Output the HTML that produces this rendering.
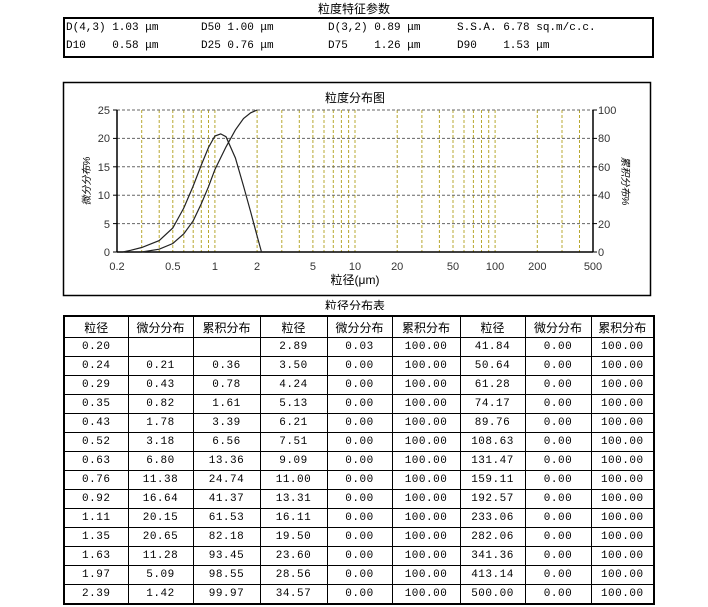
<!DOCTYPE html>
<html><head><meta charset="utf-8"><style>
body{margin:0;width:708px;height:607px;background:#fff;position:relative;font-family:"Liberation Sans","Noto Sans CJK SC",sans-serif;color:#000;overflow:hidden}
.t{position:absolute;font-size:12px;text-align:center}
#p{position:absolute;left:63px;top:17px;width:587px;height:37px;border:2px solid #000;font-family:"Liberation Mono","Noto Sans CJK SC",monospace;font-size:11px}
#p span{position:absolute}
table{position:absolute;left:63px;top:315px;border-collapse:collapse;border:2px solid #000}
td{border:1px solid #000;height:18px;padding:0;text-align:center;font-size:11px;font-family:"Liberation Mono",monospace;letter-spacing:0.5px}
tr.h td{height:20px;font-family:"Liberation Sans","Noto Sans CJK SC",sans-serif;font-size:12px;letter-spacing:0}
</style></head><body>
<div class="t" style="left:0;width:708px;top:0px">粒度特征参数</div>
<div id="p">
<span style="left:1px;top:3px">D(4,3) 1.03 μm</span>
<span style="left:136px;top:3px">D50 1.00 μm</span>
<span style="left:263px;top:3px">D(3,2) 0.89 μm</span>
<span style="left:392px;top:3px">S.S.A. 6.78 sq.m/c.c.</span>
<span style="left:1px;top:21px">D10&nbsp;&nbsp;&nbsp; 0.58 μm</span>
<span style="left:136px;top:21px">D25 0.76 μm</span>
<span style="left:263px;top:21px">D75&nbsp;&nbsp;&nbsp; 1.26 μm</span>
<span style="left:392px;top:21px">D90&nbsp;&nbsp;&nbsp; 1.53 μm</span>
</div>
<svg style="position:absolute;left:0;top:0" width="708" height="310" font-family="Liberation Sans,Noto Sans CJK SC,sans-serif" font-size="11">
<rect x="63.5" y="82.5" width="587" height="213" fill="none" stroke="#000" stroke-width="1.5"/>
<text x="355" y="102" text-anchor="middle" font-size="12">粒度分布图</text>
<g stroke="#b8a830" stroke-dasharray="3,2" stroke-width="1">
<line x1="141.7" y1="110" x2="141.7" y2="252"/><line x1="159.2" y1="110" x2="159.2" y2="252"/><line x1="172.8" y1="110" x2="172.8" y2="252"/><line x1="183.8" y1="110" x2="183.8" y2="252"/><line x1="193.2" y1="110" x2="193.2" y2="252"/><line x1="201.3" y1="110" x2="201.3" y2="252"/><line x1="208.5" y1="110" x2="208.5" y2="252"/><line x1="214.9" y1="110" x2="214.9" y2="252"/><line x1="257.1" y1="110" x2="257.1" y2="252"/><line x1="281.8" y1="110" x2="281.8" y2="252"/><line x1="299.3" y1="110" x2="299.3" y2="252"/><line x1="312.9" y1="110" x2="312.9" y2="252"/><line x1="324" y1="110" x2="324" y2="252"/><line x1="333.3" y1="110" x2="333.3" y2="252"/><line x1="341.4" y1="110" x2="341.4" y2="252"/><line x1="348.6" y1="110" x2="348.6" y2="252"/><line x1="355" y1="110" x2="355" y2="252"/><line x1="397.2" y1="110" x2="397.2" y2="252"/><line x1="421.9" y1="110" x2="421.9" y2="252"/><line x1="439.4" y1="110" x2="439.4" y2="252"/><line x1="453" y1="110" x2="453" y2="252"/><line x1="464" y1="110" x2="464" y2="252"/><line x1="473.4" y1="110" x2="473.4" y2="252"/><line x1="481.5" y1="110" x2="481.5" y2="252"/><line x1="488.7" y1="110" x2="488.7" y2="252"/><line x1="495.1" y1="110" x2="495.1" y2="252"/><line x1="537.3" y1="110" x2="537.3" y2="252"/><line x1="562" y1="110" x2="562" y2="252"/><line x1="579.5" y1="110" x2="579.5" y2="252"/>
</g>
<g stroke="#666" stroke-dasharray="3,2">
<line x1="117" y1="110" x2="593" y2="110"/><line x1="117" y1="138.4" x2="593" y2="138.4"/><line x1="117" y1="166.8" x2="593" y2="166.8"/><line x1="117" y1="195.2" x2="593" y2="195.2"/><line x1="117" y1="223.6" x2="593" y2="223.6"/>
</g>
<g stroke="#000" stroke-width="1.5"><line x1="117" y1="110" x2="117" y2="252"/><line x1="593" y1="110" x2="593" y2="252"/><line x1="117" y1="252" x2="593" y2="252"/></g>
<g stroke="#000"><line x1="113" y1="110" x2="117" y2="110"/><line x1="113" y1="138.4" x2="117" y2="138.4"/><line x1="113" y1="166.8" x2="117" y2="166.8"/><line x1="113" y1="195.2" x2="117" y2="195.2"/><line x1="113" y1="223.6" x2="117" y2="223.6"/><line x1="113" y1="252" x2="117" y2="252"/>
<line x1="593" y1="110" x2="597" y2="110"/><line x1="593" y1="138.4" x2="597" y2="138.4"/><line x1="593" y1="166.8" x2="597" y2="166.8"/><line x1="593" y1="195.2" x2="597" y2="195.2"/><line x1="593" y1="223.6" x2="597" y2="223.6"/><line x1="593" y1="252" x2="597" y2="252"/></g>
<g text-anchor="end" fill="#333"><text x="110" y="114">25</text><text x="110" y="142">20</text><text x="110" y="171">15</text><text x="110" y="199">10</text><text x="110" y="228">5</text><text x="110" y="256">0</text></g>
<g text-anchor="start" fill="#333"><text x="598" y="114">100</text><text x="598" y="142">80</text><text x="598" y="171">60</text><text x="598" y="199">40</text><text x="598" y="228">20</text><text x="598" y="256">0</text></g>
<g text-anchor="middle" fill="#333"><text x="117" y="270">0.2</text><text x="172.8" y="270">0.5</text><text x="214.9" y="270">1</text><text x="257.1" y="270">2</text><text x="312.9" y="270">5</text><text x="355" y="270">10</text><text x="397.2" y="270">20</text><text x="453" y="270">50</text><text x="495.1" y="270">100</text><text x="537.3" y="270">200</text><text x="593" y="270">500</text></g>
<text x="355" y="284" text-anchor="middle" font-size="12">粒径(μm)</text>
<text transform="translate(90,181) rotate(-90)" text-anchor="middle" font-size="10" font-style="italic">微分分布%</text>
<text transform="translate(622,181) rotate(90)" text-anchor="middle" font-size="10" font-style="italic">累积分布%</text>
<polyline fill="none" stroke="#222" stroke-width="1.2" points="122.8,252 130.6,250.3 141.7,247.5 159.2,240.6 172.8,228 183.8,208 193.2,186 201.3,165 208.5,147.5 214.9,136 220.7,133.9 226,136.7 235.4,158 243.5,186 250.7,212 257.1,236 261.5,252"/>
<polyline fill="none" stroke="#222" stroke-width="1.2" points="141.7,252 159.2,249.2 172.8,243.5 183.8,233.8 193.2,220.8 201.3,203.7 208.5,186.7 214.9,169.6 226,146.9 235.4,129.9 243.5,118.5 250.7,112.8 257.1,110"/>
<text x="355" y="310" text-anchor="middle" font-size="12">粒径分布表</text>
</svg>
<table>
<colgroup><col style="width:64px"><col style="width:65px"><col style="width:67px"><col style="width:67px"><col style="width:65px"><col style="width:68px"><col style="width:65px"><col style="width:66px"><col style="width:63px"></colgroup>
<tr class="h"><td>粒径</td><td>微分分布</td><td>累积分布</td><td>粒径</td><td>微分分布</td><td>累积分布</td><td>粒径</td><td>微分分布</td><td>累积分布</td></tr>
<tr><td>0.20</td><td></td><td></td><td>2.89</td><td>0.03</td><td>100.00</td><td>41.84</td><td>0.00</td><td>100.00</td></tr>
<tr><td>0.24</td><td>0.21</td><td>0.36</td><td>3.50</td><td>0.00</td><td>100.00</td><td>50.64</td><td>0.00</td><td>100.00</td></tr>
<tr><td>0.29</td><td>0.43</td><td>0.78</td><td>4.24</td><td>0.00</td><td>100.00</td><td>61.28</td><td>0.00</td><td>100.00</td></tr>
<tr><td>0.35</td><td>0.82</td><td>1.61</td><td>5.13</td><td>0.00</td><td>100.00</td><td>74.17</td><td>0.00</td><td>100.00</td></tr>
<tr><td>0.43</td><td>1.78</td><td>3.39</td><td>6.21</td><td>0.00</td><td>100.00</td><td>89.76</td><td>0.00</td><td>100.00</td></tr>
<tr><td>0.52</td><td>3.18</td><td>6.56</td><td>7.51</td><td>0.00</td><td>100.00</td><td>108.63</td><td>0.00</td><td>100.00</td></tr>
<tr><td>0.63</td><td>6.80</td><td>13.36</td><td>9.09</td><td>0.00</td><td>100.00</td><td>131.47</td><td>0.00</td><td>100.00</td></tr>
<tr><td>0.76</td><td>11.38</td><td>24.74</td><td>11.00</td><td>0.00</td><td>100.00</td><td>159.11</td><td>0.00</td><td>100.00</td></tr>
<tr><td>0.92</td><td>16.64</td><td>41.37</td><td>13.31</td><td>0.00</td><td>100.00</td><td>192.57</td><td>0.00</td><td>100.00</td></tr>
<tr><td>1.11</td><td>20.15</td><td>61.53</td><td>16.11</td><td>0.00</td><td>100.00</td><td>233.06</td><td>0.00</td><td>100.00</td></tr>
<tr><td>1.35</td><td>20.65</td><td>82.18</td><td>19.50</td><td>0.00</td><td>100.00</td><td>282.06</td><td>0.00</td><td>100.00</td></tr>
<tr><td>1.63</td><td>11.28</td><td>93.45</td><td>23.60</td><td>0.00</td><td>100.00</td><td>341.36</td><td>0.00</td><td>100.00</td></tr>
<tr><td>1.97</td><td>5.09</td><td>98.55</td><td>28.56</td><td>0.00</td><td>100.00</td><td>413.14</td><td>0.00</td><td>100.00</td></tr>
<tr><td>2.39</td><td>1.42</td><td>99.97</td><td>34.57</td><td>0.00</td><td>100.00</td><td>500.00</td><td>0.00</td><td>100.00</td></tr>
</table>
</body></html>
